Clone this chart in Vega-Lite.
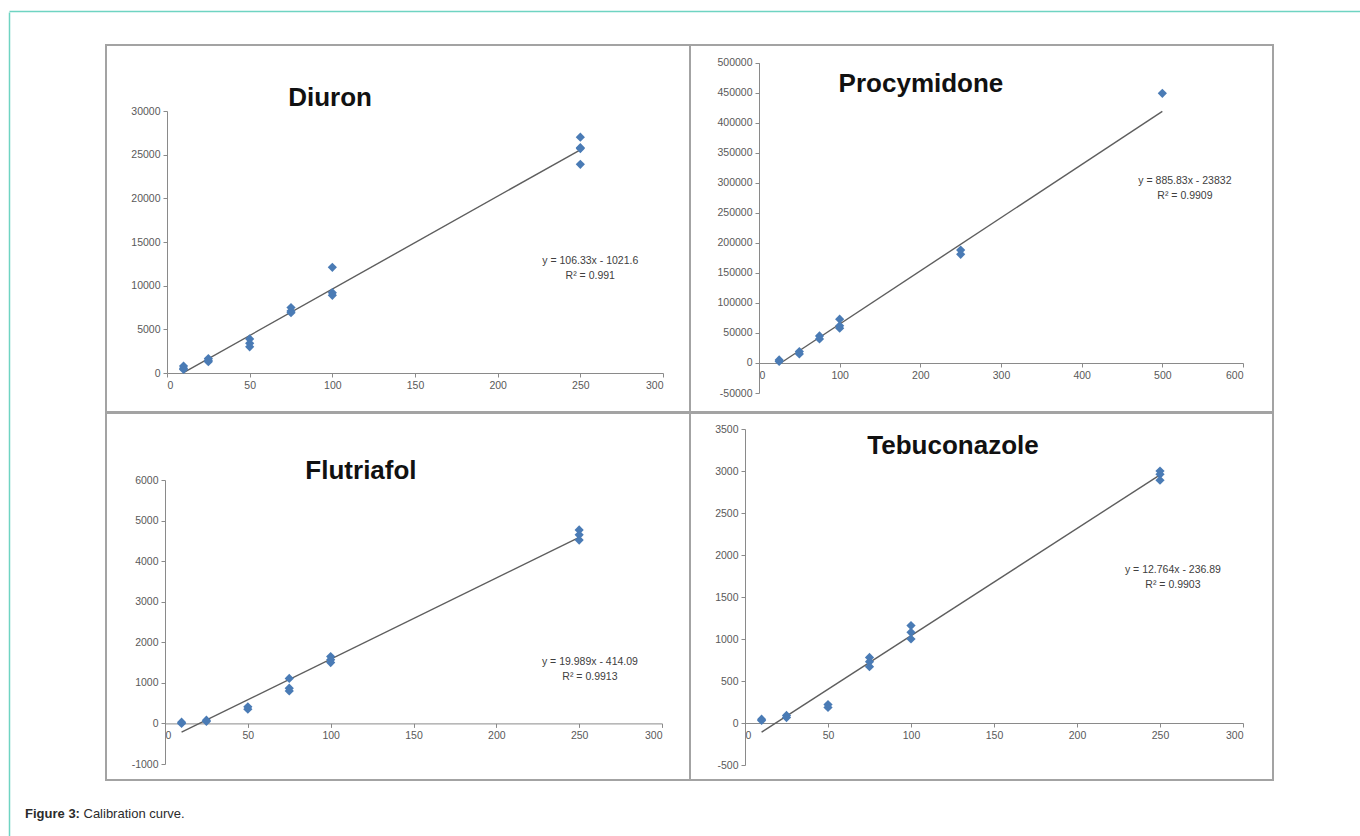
{
  "$schema": "https://vega.github.io/schema/vega-lite/v6.json",
  "autosize": {"type": "pad"},
  "padding": {"left": 8, "top": 10, "right": 0, "bottom": 0},
  "background": "white",
  "config": {
    "view": {"stroke": "#a3a3a3", "strokeWidth": 2},
    "axis": {"grid": false, "title": null, "labelFont": "Liberation Sans", "labelFontSize": 10.5, "labelColor": "#595959", "domainColor": "#8a8a8a", "tickColor": "#8a8a8a", "tickSize": 4, "labelPadding": 3, "labelOverlap": false, "labelExpr": "'' + datum.value"},
    "text": {"font": "Liberation Sans"}
  },
  "datasets": {
    "diuron_pts": [{"x":10,"y":800},{"x":10,"y":550},{"x":10,"y":400},{"x":25,"y":1650},{"x":25,"y":1450},{"x":25,"y":1300},{"x":50,"y":3900},{"x":50,"y":3400},{"x":50,"y":3000},{"x":75,"y":7500},{"x":75,"y":7100},{"x":75,"y":6900},{"x":100,"y":12100},{"x":100,"y":9200},{"x":100,"y":8900},{"x":250,"y":27000},{"x":250,"y":25800},{"x":250,"y":25700},{"x":250,"y":23900}],
    "diuron_fit": [{"x":10,"y":41.7},{"x":250,"y":25561}],
    "proc_pts": [{"x":25,"y":5000},{"x":25,"y":2500},{"x":50,"y":19000},{"x":50,"y":15000},{"x":75,"y":45000},{"x":75,"y":40000},{"x":100,"y":73000},{"x":100,"y":62000},{"x":100,"y":58000},{"x":250,"y":188000},{"x":250,"y":181000},{"x":500,"y":449000}],
    "proc_fit": [{"x":25,"y":-1686},{"x":500,"y":419083}],
    "flut_pts": [{"x":10,"y":30},{"x":10,"y":0},{"x":25,"y":80},{"x":25,"y":50},{"x":50,"y":410},{"x":50,"y":350},{"x":75,"y":1110},{"x":75,"y":870},{"x":75,"y":800},{"x":100,"y":1650},{"x":100,"y":1570},{"x":100,"y":1500},{"x":250,"y":4770},{"x":250,"y":4650},{"x":250,"y":4520}],
    "flut_fit": [{"x":10,"y":-214.2},{"x":250,"y":4583.2}],
    "teb_pts": [{"x":10,"y":45},{"x":10,"y":30},{"x":25,"y":90},{"x":25,"y":65},{"x":50,"y":220},{"x":50,"y":185},{"x":75,"y":780},{"x":75,"y":730},{"x":75,"y":670},{"x":100,"y":1160},{"x":100,"y":1080},{"x":100,"y":1000},{"x":250,"y":3000},{"x":250,"y":2960},{"x":250,"y":2890}],
    "teb_fit": [{"x":10,"y":-109.3},{"x":250,"y":2954.1}]
  },
  "spacing": -2,
  "vconcat": [
    {
      "spacing": 0,
      "bounds": "flush",
      "hconcat": [
        {
          "width": 584, "height": 367,
          "resolve": {"scale": {"x": "independent", "y": "independent"}, "axis": {"x": "independent", "y": "independent"}},
          "layer": [
            {
              "layer": [
                {"data": {"name": "diuron_fit"}, "mark": {"type": "line", "color": "#5e5e5e", "strokeWidth": 1.4},
                 "encoding": {
                   "x": {"field": "x", "type": "quantitative", "scale": {"domain": [0, 300], "range": [61, 557], "nice": false, "zero": false}, "axis": {"orient": "bottom", "offset": -39, "labelOverlap": false, "values": [0,50,100,150,200,250,300]}},
                   "y": {"field": "y", "type": "quantitative", "scale": {"domain": [0, 30000], "range": [328, 66], "nice": false, "zero": false}, "axis": {"orient": "left", "offset": -61, "labelOverlap": false, "values": [0,5000,10000,15000,20000,25000,30000]}}
                 }},
                {"data": {"name": "diuron_pts"}, "mark": {"type": "point", "shape": "diamond", "filled": true, "size": 85, "color": "#4a7bb5", "opacity": 1},
                 "encoding": {"x": {"field": "x", "type": "quantitative"}, "y": {"field": "y", "type": "quantitative"}}},
                {"data": {"values": [{}]}, "mark": {"type": "text", "fontSize": 26, "fontWeight": "bold", "align": "center", "baseline": "alphabetic", "color": "#111111"},
                 "encoding": {"x": {"datum": 98.6, "type": "quantitative"}, "y": {"datum": 30570, "type": "quantitative"}, "text": {"value": "Diuron"}}},
                {"data": {"values": [{}]}, "mark": {"type": "text", "fontSize": 10.5, "align": "center", "baseline": "top", "lineHeight": 15, "color": "#404040"},
                 "encoding": {"x": {"datum": 256, "type": "quantitative"}, "y": {"datum": 13400, "type": "quantitative"}, "text": {"value": ["y = 106.33x - 1021.6", "R² = 0.991"]}}}
              ]
            },
            {"data": {"values": [{}]}, "mark": {"type": "point", "opacity": 0, "size": 0},
             "encoding": {
               "x": {"datum": 0, "type": "quantitative", "scale": {"domain": [0, 1], "range": [-97, 1254]}, "axis": {"orient": "top", "offset": 34, "domainColor": "#6fd4c2", "domainWidth": 1.5, "labels": false, "ticks": false}}
             }}
          ]
        },
        {
          "width": 583, "height": 367,
          "layer": [
            {"data": {"name": "proc_fit"}, "mark": {"type": "line", "color": "#5e5e5e", "strokeWidth": 1.4},
             "encoding": {
               "x": {"field": "x", "type": "quantitative", "scale": {"domain": [0, 600], "range": [69, 553], "nice": false, "zero": false}, "axis": {"orient": "bottom", "offset": -49, "labelOverlap": false, "values": [0,100,200,300,400,500,600]}},
               "y": {"field": "y", "type": "quantitative", "scale": {"domain": [-50000, 500000], "range": [348, 17.7], "nice": false, "zero": false}, "axis": {"orient": "left", "offset": -69, "labelOverlap": false, "labelSeparation": 0, "tickCount": 12, "values": [-50000,0,50000,100000,150000,200000,250000,300000,350000,400000,450000,500000]}}
             }},
            {"data": {"name": "proc_pts"}, "mark": {"type": "point", "shape": "diamond", "filled": true, "size": 85, "color": "#4a7bb5", "opacity": 1},
             "encoding": {"x": {"field": "x", "type": "quantitative"}, "y": {"field": "y", "type": "quantitative"}}},
            {"data": {"values": [{}]}, "mark": {"type": "text", "fontSize": 26, "fontWeight": "bold", "align": "center", "baseline": "alphabetic", "color": "#111111"},
             "encoding": {"x": {"datum": 200.8, "type": "quantitative"}, "y": {"datum": 451200, "type": "quantitative"}, "text": {"value": "Procymidone"}}},
            {"data": {"values": [{}]}, "mark": {"type": "text", "fontSize": 10.5, "align": "center", "baseline": "top", "lineHeight": 15, "color": "#404040"},
             "encoding": {"x": {"datum": 528, "type": "quantitative"}, "y": {"datum": 311000, "type": "quantitative"}, "text": {"value": ["y = 885.83x - 23832", "R² = 0.9909"]}}}
          ]
        }
      ]
    },
    {
      "spacing": 0,
      "bounds": "flush",
      "hconcat": [
        {
          "width": 584, "height": 367,
          "resolve": {"scale": {"x": "independent", "y": "independent"}, "axis": {"x": "independent", "y": "independent"}},
          "layer": [
            {
              "layer": [
                {"data": {"name": "flut_fit"}, "mark": {"type": "line", "color": "#5e5e5e", "strokeWidth": 1.4},
                 "encoding": {
                   "x": {"field": "x", "type": "quantitative", "scale": {"domain": [0, 300], "range": [59, 556], "nice": false, "zero": false}, "axis": {"orient": "bottom", "offset": -56.6, "labelOverlap": false, "values": [0,50,100,150,200,250,300]}},
                   "y": {"field": "y", "type": "quantitative", "scale": {"domain": [-1000, 6000], "range": [351, 67], "nice": false, "zero": false}, "axis": {"orient": "left", "offset": -59, "labelOverlap": false, "values": [-1000,0,1000,2000,3000,4000,5000,6000]}}
                 }},
                {"data": {"name": "flut_pts"}, "mark": {"type": "point", "shape": "diamond", "filled": true, "size": 85, "color": "#4a7bb5", "opacity": 1},
                 "encoding": {"x": {"field": "x", "type": "quantitative"}, "y": {"field": "y", "type": "quantitative"}}},
                {"data": {"values": [{}]}, "mark": {"type": "text", "fontSize": 26, "fontWeight": "bold", "align": "center", "baseline": "alphabetic", "color": "#111111"},
                 "encoding": {"x": {"datum": 118.3, "type": "quantitative"}, "y": {"datum": 6015, "type": "quantitative"}, "text": {"value": "Flutriafol"}}},
                {"data": {"values": [{}]}, "mark": {"type": "text", "fontSize": 10.5, "align": "center", "baseline": "top", "lineHeight": 15, "color": "#404040"},
                 "encoding": {"x": {"datum": 256.5, "type": "quantitative"}, "y": {"datum": 1627, "type": "quantitative"}, "text": {"value": ["y = 19.989x - 414.09", "R² = 0.9913"]}}}
              ]
            },
            {"data": {"values": [{}]}, "mark": {"type": "point", "opacity": 0, "size": 0},
             "encoding": {
               "y": {"datum": 0, "type": "quantitative", "scale": {"domain": [0, 1], "range": [500, -401]}, "axis": {"orient": "left", "offset": 97, "domainColor": "#6fd4c2", "domainWidth": 1.5, "labels": false, "ticks": false}}
             }}
          ]
        },
        {
          "width": 583, "height": 367,
          "layer": [
            {"data": {"name": "teb_fit"}, "mark": {"type": "line", "color": "#5e5e5e", "strokeWidth": 1.4},
             "encoding": {
               "x": {"field": "x", "type": "quantitative", "scale": {"domain": [0, 300], "range": [55, 553], "nice": false, "zero": false}, "axis": {"orient": "bottom", "offset": -57, "labelOverlap": false, "values": [0,50,100,150,200,250,300]}},
               "y": {"field": "y", "type": "quantitative", "scale": {"domain": [-500, 3500], "range": [352, 16], "nice": false, "zero": false}, "axis": {"orient": "left", "offset": -55, "labelOverlap": false, "values": [-500,0,500,1000,1500,2000,2500,3000,3500]}}
             }},
            {"data": {"name": "teb_pts"}, "mark": {"type": "point", "shape": "diamond", "filled": true, "size": 85, "color": "#4a7bb5", "opacity": 1},
             "encoding": {"x": {"field": "x", "type": "quantitative"}, "y": {"field": "y", "type": "quantitative"}}},
            {"data": {"values": [{}]}, "mark": {"type": "text", "fontSize": 26, "fontWeight": "bold", "align": "center", "baseline": "alphabetic", "color": "#111111"},
             "encoding": {"x": {"datum": 125.3, "type": "quantitative"}, "y": {"datum": 3201, "type": "quantitative"}, "text": {"value": "Tebuconazole"}}},
            {"data": {"values": [{}]}, "mark": {"type": "text", "fontSize": 10.5, "align": "center", "baseline": "top", "lineHeight": 15, "color": "#404040"},
             "encoding": {"x": {"datum": 257.8, "type": "quantitative"}, "y": {"datum": 1880, "type": "quantitative"}, "text": {"value": ["y = 12.764x - 236.89", "R² = 0.9903"]}}},
            {"data": {"values": [{}]}, "mark": {"type": "text", "fontSize": 13, "fontWeight": "bold", "align": "left", "baseline": "alphabetic", "color": "#2b2b2b"},
             "encoding": {"x": {"datum": -433.7, "type": "quantitative"}, "y": {"datum": -1131, "type": "quantitative"}, "text": {"value": "Figure 3:"}}},
            {"data": {"values": [{}]}, "mark": {"type": "text", "fontSize": 13, "fontWeight": "normal", "align": "left", "baseline": "alphabetic", "color": "#2b2b2b"},
             "encoding": {"x": {"datum": -398.5, "type": "quantitative"}, "y": {"datum": -1131, "type": "quantitative"}, "text": {"value": "Calibration curve."}}}
          ]
        }
      ]
    }
  ]
}
